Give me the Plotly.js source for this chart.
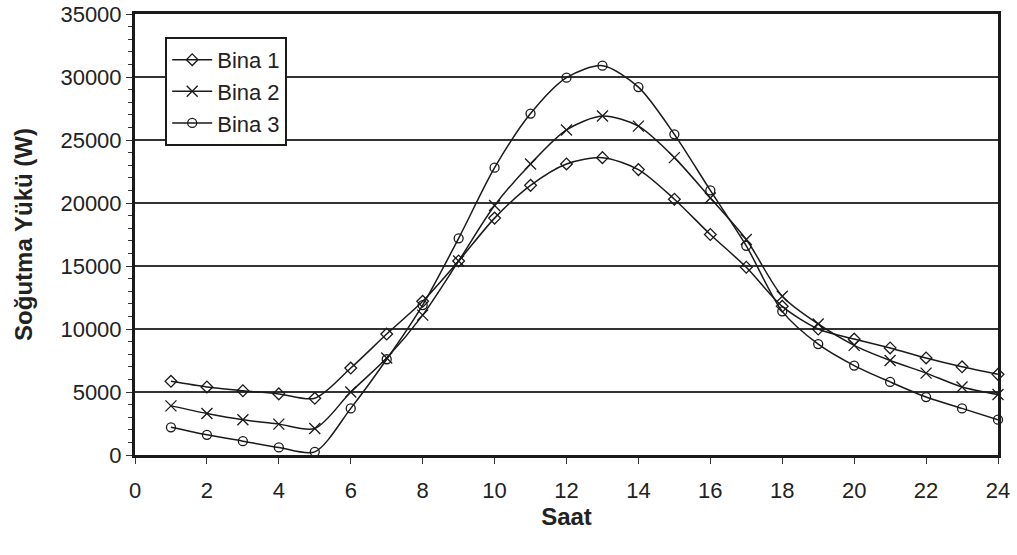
<!DOCTYPE html>
<html>
<head>
<meta charset="utf-8">
<script src="https://cdn.plot.ly/plotly-3.0.1.min.js"></script>
<style>html,body{margin:0;padding:0;background:#fff;}#chart{width:1017px;height:555px;}</style>
</head>
<body>
<div id="chart"></div>
<script>
var hours = [1,2,3,4,5,6,7,8,9,10,11,12,13,14,15,16,17,18,19,20,21,22,23,24];
var bina1 = [5850,5400,5100,4850,4500,6900,9600,12200,15400,18800,21400,23100,23600,22650,20300,17500,14900,11800,10000,9200,8500,7700,7000,6400];
var bina2 = [3900,3300,2800,2450,2100,5000,7700,11100,15400,19800,23100,25800,26900,26100,23600,20400,17100,12600,10400,8700,7500,6500,5400,4800];
var bina3 = [2200,1600,1100,600,250,3700,7600,11900,17200,22800,27100,29950,30900,29200,25450,21000,16600,11400,8800,7100,5800,4600,3700,2800];
var seriesNames = ["Bina 1","Bina 2","Bina 3"];
var xTitle = "Saat";
var yTitle = "Soğutma Yükü (W)";

var symbols = ["diamond-open","x-thin-open","circle-open"];
var sizes = [9,11,9];
var data = [bina1,bina2,bina3].map(function(v,i){
  return {
    x: hours, y: v, name: seriesNames[i], type: "scatter", mode: "lines+markers",
    line: {color: "#1a1a1a", width: 1.5, shape: "spline", smoothing: 0.8},
    marker: {symbol: symbols[i], size: sizes[i], color: "#1a1a1a", line: {color: "#1a1a1a", width: 1.3}},
    cliponaxis: false
  };
});
var fontFam = "Liberation Sans, Arial, sans-serif";
var layout = {
  width: 1017, height: 555,
  margin: {l: 135, r: 19, t: 14, b: 100},
  paper_bgcolor: "#fff", plot_bgcolor: "#fff",
  font: {family: fontFam, size: 22, color: "#222"},
  showlegend: true,
  legend: {x: 0.035, y: 0.948, xanchor: "left", yanchor: "top", bgcolor: "#fff",
           bordercolor: "#1a1a1a", borderwidth: 2, font: {size: 22, color: "#222"},
           itemwidth: 40},
  xaxis: {
    range: [0,24], dtick: 2, tick0: 0, showgrid: false, zeroline: false,
    ticks: "outside", ticklen: 6, tickcolor: "#333", tickwidth: 1, ticklabelstandoff: 8,
    showline: true, linecolor: "#1a1a1a", linewidth: 3, mirror: true,
    tickfont: {size: 22, color: "#222"},
    title: {text: "<b>" + xTitle + "</b>", font: {size: 24, color: "#222"}, standoff: 5}
  },
  yaxis: {
    range: [0,35000], dtick: 5000, tick0: 0, tickformat: "d", showgrid: true, gridcolor: "#333", gridwidth: 1.2,
    zeroline: false, ticks: "outside", ticklen: 6, tickcolor: "#333",
    minor: {dtick: 1000, ticks: "outside", ticklen: 4, tickcolor: "#333", showgrid: false},
    showline: true, linecolor: "#1a1a1a", linewidth: 3, mirror: true,
    tickfont: {size: 22, color: "#222"},
    title: {text: "<b>" + yTitle + "</b>", font: {size: 24, color: "#222"}, standoff: 22}
  }
};
Plotly.newPlot("chart", data, layout, {displayModeBar: false, staticPlot: true});
</script>
</body>
</html>
